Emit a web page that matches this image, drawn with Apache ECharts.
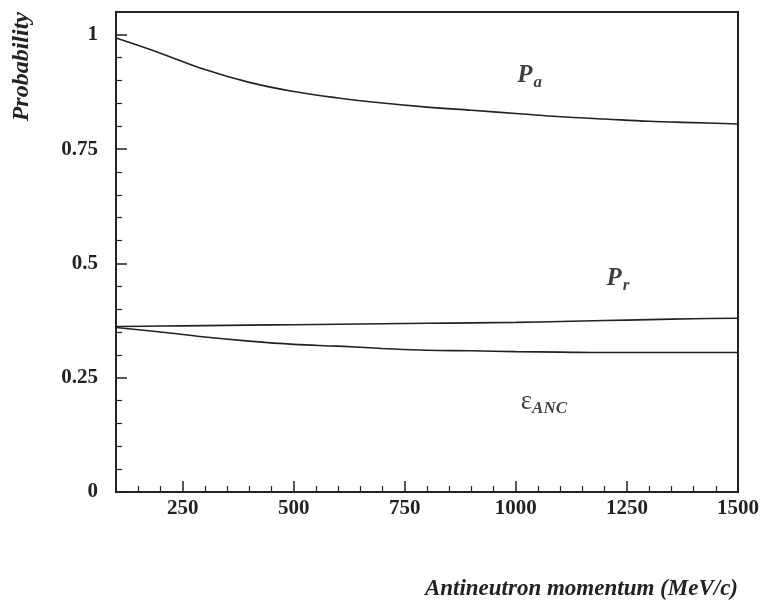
<!DOCTYPE html>
<html>
<head>
<meta charset="utf-8">
<script src="https://cdn.jsdelivr.net/npm/echarts@6/dist/echarts.min.js"></script>
<style>
  html, body { margin: 0; padding: 0; background: #fff; }
  #chart { width: 772px; height: 608px; }
</style>
</head>
<body>
<div id="chart"></div>
<script>
// momentum grid (MeV/c)
const momentum = [100, 200, 300, 400, 500, 600, 700, 800, 900, 1000, 1100, 1200, 1300, 1400, 1500]
// curves
const pA   = [0.993, 0.960, 0.924, 0.896, 0.876, 0.862, 0.851, 0.842, 0.835, 0.828, 0.821, 0.816, 0.811, 0.808, 0.805]
const pR   = [0.362, 0.363, 0.364, 0.365, 0.366, 0.367, 0.368, 0.369, 0.370, 0.371, 0.373, 0.375, 0.377, 0.379, 0.380]
const eANC = [0.360, 0.350, 0.339, 0.330, 0.323, 0.319, 0.314, 0.310, 0.309, 0.307, 0.306, 0.305, 0.305, 0.305, 0.305]

const xMajor = [250, 500, 750, 1000, 1250, 1500]
const xMinor = [150, 200, 300, 350, 400, 450, 550, 600, 650, 700, 800, 850, 900, 950, 1050, 1100, 1150, 1200, 1300, 1350, 1400, 1450]
const yMajor = [0, 0.25, 0.5, 0.75, 1]
const yMinor = [0.05, 0.1, 0.15, 0.2, 0.3, 0.35, 0.4, 0.45, 0.55, 0.6, 0.65, 0.7, 0.8, 0.85, 0.9, 0.95]

// curve labels, in data coordinates
const labelPos = [[1031, 0.91], [1230, 0.467], [1063, 0.197]]
const labelText = ['{p|P}{s|a}', '{p|P}{s|r}', '{e|ε}{n|ANC}']

const serif = '"Liberation Serif", "DejaVu Serif", serif'
const ink = '#222'

function pair(xs, ys) {
  return xs.map((x, i) => [x, ys[i]])
}

const tickFont = { fontFamily: serif, fontWeight: 'bold', fontSize: 21, color: ink, formatter: v => String(v) }
const subRich = {
  p: { fontFamily: serif, fontStyle: 'italic', fontWeight: 'bold', fontSize: 25, color: '#111' },
  s: { fontFamily: serif, fontStyle: 'italic', fontWeight: 'bold', fontSize: 17, color: '#111', padding: [14, 0, 0, 1] },
  e: { fontFamily: serif, fontSize: 27, color: '#111' },
  n: { fontFamily: serif, fontStyle: 'italic', fontWeight: 'bold', fontSize: 17, color: '#111', padding: [14, 0, 0, 0] }
}

const myChart = echarts.init(document.getElementById('chart'), null, { renderer: 'canvas' })

const lineStyle = { color: ink, width: 1.6 }
const curve = { type: 'line', smooth: 0.4, showSymbol: false, lineStyle: lineStyle }

myChart.setOption({
  animation: false,
  backgroundColor: '#fff',
  grid: {
    left: 116, right: 34, top: 12, bottom: 116,
    show: true, borderColor: ink, borderWidth: 2, backgroundColor: 'transparent'
  },
  xAxis: [
    {
      type: 'value', min: 100, max: 1500,
      name: 'Antineutron momentum (MeV/c)',
      nameLocation: 'end',
      nameGap: 0,
      nameTextStyle: {
        fontFamily: serif, fontStyle: 'italic', fontWeight: 'bold', fontSize: 23, color: ink,
        align: 'right', verticalAlign: 'top', padding: [86, 0, 0, 0]
      },
      axisLine: { show: true, lineStyle: { color: ink, width: 2 } },
      axisTick: { show: true, inside: true, length: 11, customValues: xMajor, lineStyle: { color: ink, width: 1.5 } },
      axisLabel: Object.assign({ customValues: xMajor, margin: 6 }, tickFont),
      splitLine: { show: false }
    },
    {
      type: 'value', min: 100, max: 1500, position: 'bottom',
      axisLine: { show: false },
      axisTick: { show: true, inside: true, length: 6, customValues: xMinor, lineStyle: { color: ink, width: 1.2 } },
      axisLabel: { show: false },
      splitLine: { show: false }
    }
  ],
  yAxis: [
    {
      type: 'value', min: 0, max: 1.05,
      name: 'Probability',
      nameLocation: 'end',
      nameRotate: 90,
      nameGap: 0,
      nameTextStyle: {
        fontFamily: serif, fontStyle: 'italic', fontWeight: 'bold', fontSize: 24, color: ink,
        align: 'right', verticalAlign: 'bottom', padding: [0, 0, 82, 0]
      },
      axisLine: { show: true, lineStyle: { color: ink, width: 2 } },
      axisTick: { show: true, inside: true, length: 11, customValues: yMajor, lineStyle: { color: ink, width: 1.5 } },
      axisLabel: Object.assign({ customValues: yMajor, margin: 18 }, tickFont),
      splitLine: { show: false }
    },
    {
      type: 'value', min: 0, max: 1.05, position: 'left',
      axisLine: { show: false },
      axisTick: { show: true, inside: true, length: 6, customValues: yMinor, lineStyle: { color: ink, width: 1.2 } },
      axisLabel: { show: false },
      splitLine: { show: false }
    }
  ],
  series: [
    Object.assign({ name: 'Pa', data: pair(momentum, pA) }, curve),
    Object.assign({ name: 'Pr', data: pair(momentum, pR) }, curve),
    Object.assign({ name: 'eANC', data: pair(momentum, eANC) }, curve),
    {
      name: 'labels', type: 'scatter', symbolSize: 0,
      itemStyle: { color: ink },
      emphasis: { disabled: true },
      data: labelPos.map((p, i) => ({
        value: p,
        label: { show: true, position: 'inside', formatter: labelText[i], rich: subRich }
      }))
    }
  ]
})
</script>
</body>
</html>
